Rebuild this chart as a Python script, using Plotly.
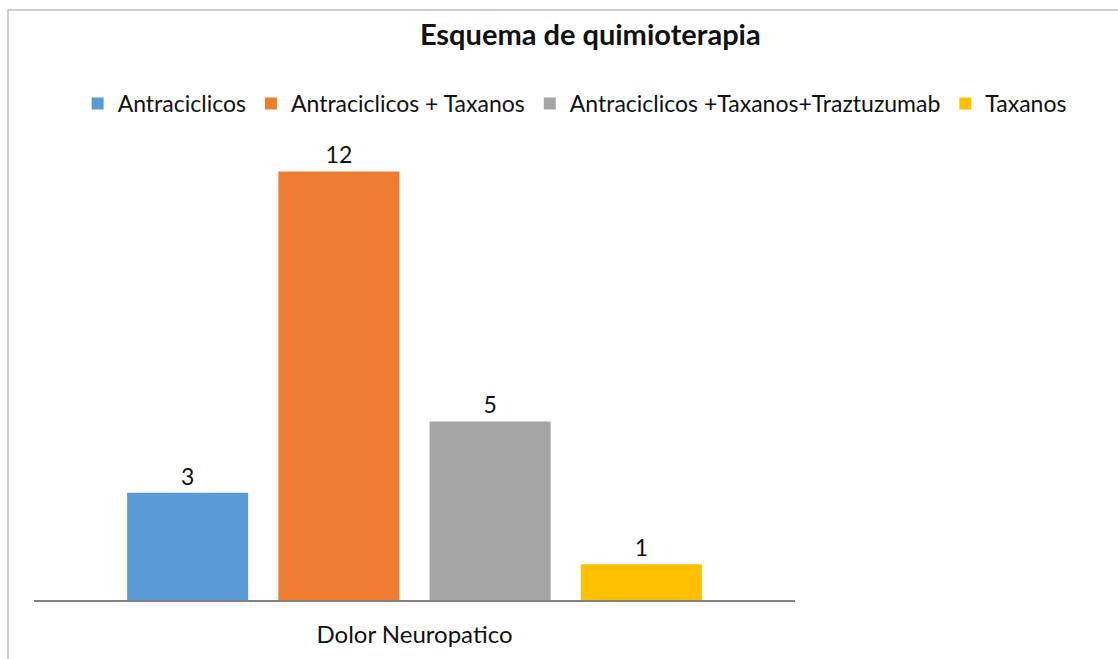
import plotly.graph_objects as go

categories = ["Dolor Neuropatico"]
series_names = ["Antraciclicos", "Antraciclicos + Taxanos",
                "Antraciclicos +Taxanos+Traztuzumab", "Taxanos"]
series_values = [[3], [12], [5], [1]]
colors = ["#5B9BD5", "#EE7D31", "#A5A5A5", "#FFC000"]

W, H = 1118, 659
PX0, PX1 = 34, 795  # horizontal extent of the bar axis in pixels

fig = go.Figure()
for name, vals, col in zip(series_names, series_values, colors):
    fig.add_trace(go.Bar(
        x=categories, y=vals, name=name,
        marker=dict(color=col, line=dict(width=0)),
        text=[str(v) for v in vals], textposition="outside",
        textfont=dict(size=23, color="#111111", family="Lato"),
        cliponaxis=False,
    ))

fig.update_layout(
    width=W, height=H,
    margin=dict(l=0, r=0, t=100, b=59, autoexpand=False),
    paper_bgcolor="white", plot_bgcolor="white",
    font=dict(family="Lato", color="#111111"),
    title=dict(text="<b>Esquema de quimioterapia</b>", x=0.528, xanchor="center",
               y=0.947, yanchor="middle", xref="container", yref="container",
               font=dict(size=29, color="#111111", family="Lato")),
    barmode="group", bargap=0.205, bargroupgap=0.20,
    showlegend=True,
    legend=dict(orientation="h", x=0.514, xanchor="center", xref="paper",
                y=0.843, yanchor="middle", yref="container",
                font=dict(size=23, family="Lato", color="#111111"),
                itemwidth=30, traceorder="normal", tracegroupgap=0),
    xaxis=dict(domain=[PX0 / W, PX1 / W],
               showline=True, linecolor="#808080", linewidth=1.5,
               tickfont=dict(size=24, family="Lato", color="#111111"),
               ticks="", ticklabelstandoff=12, showgrid=False, fixedrange=True),
    yaxis=dict(range=[0, 14], visible=False, showgrid=False, fixedrange=True),
)

fig.add_shape(type="rect", xref="paper", yref="paper",
              x0=8 / W, x1=1.5, y0=-0.5, y1=(600 - 10) / 500,
              line=dict(color="#BFBFBF", width=1.5), fillcolor="rgba(0,0,0,0)",
              layer="below")

fig.write_html("out.html", config={"displayModeBar": False},
               post_script="document.body.style.margin='0';")
